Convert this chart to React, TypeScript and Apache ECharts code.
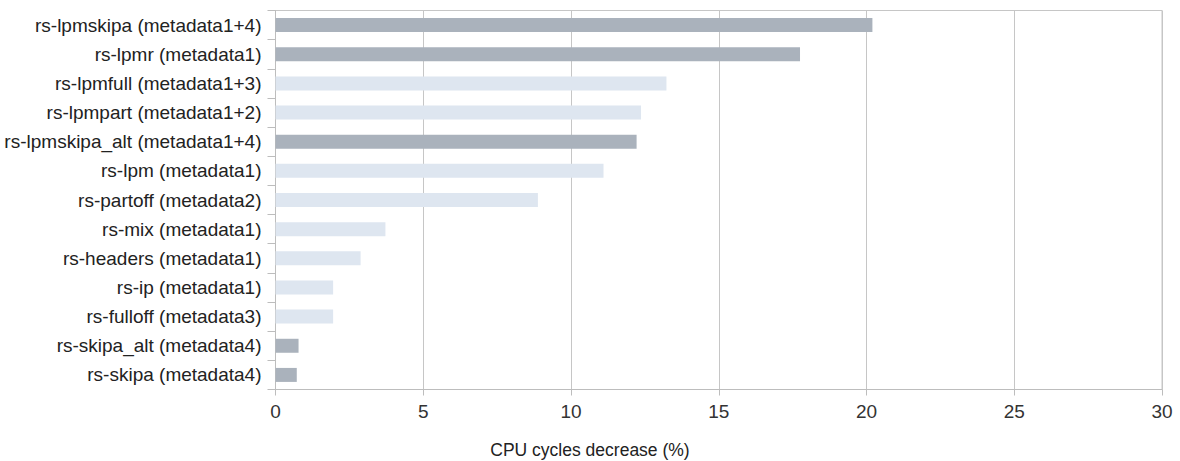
import React, { useEffect, useRef } from "react";
import * as echarts from "echarts";

const categories = [
  "rs-lpmskipa (metadata1+4)",
  "rs-lpmr (metadata1)",
  "rs-lpmfull (metadata1+3)",
  "rs-lpmpart (metadata1+2)",
  "rs-lpmskipa_alt (metadata1+4)",
  "rs-lpm (metadata1)",
  "rs-partoff (metadata2)",
  "rs-mix (metadata1)",
  "rs-headers (metadata1)",
  "rs-ip (metadata1)",
  "rs-fulloff (metadata3)",
  "rs-skipa_alt (metadata4)",
  "rs-skipa (metadata4)",
];
const values = [20.2, 17.75, 13.23, 12.37, 12.22, 11.1, 8.88, 3.72, 2.88, 1.95, 1.95, 0.78, 0.72];
const groups = ["dark", "dark", "light", "light", "dark", "light", "light", "light", "light", "light", "light", "dark", "dark"];
const xTicks = [0, 5, 10, 15, 20, 25, 30];
const axisTitle = "CPU cycles decrease (%)";

const COLORS: Record<string, string> = { dark: "#aab2bc", light: "#dee6f0" };

export default function App() {
  const ref = useRef<HTMLDivElement>(null);
  useEffect(() => {
    document.body.style.margin = "0";
    const chart = echarts.init(ref.current!, null, { renderer: "svg" });
    const font = "'Liberation Sans', Arial, sans-serif";
    chart.setOption({
      animation: false,
      textStyle: { fontFamily: font },
      grid: {
        left: 275.5,
        right: 18,
        top: 10.5,
        bottom: 71.5,
        show: true,
        borderColor: "#c6c6c6",
        borderWidth: 1,
      },
      graphic: [
        {
          type: "text",
          x: 590,
          y: 450,
          style: {
            text: axisTitle,
            fontSize: 17.5,
            fontFamily: font,
            fill: "#222",
            textAlign: "center",
            textVerticalAlign: "middle",
          },
        },
      ],
      xAxis: {
        type: "value",
        min: xTicks[0],
        max: xTicks[xTicks.length - 1],
        interval: 5,
        axisLine: { show: true, lineStyle: { color: "#bdbdbd" } },
        axisTick: { show: true, length: 6, lineStyle: { color: "#bdbdbd" } },
        axisLabel: { fontSize: 19, color: "#333", margin: 12, fontFamily: font },
        splitLine: { show: true, lineStyle: { color: "#c6c6c6", width: 1 } },
      },
      yAxis: {
        type: "category",
        data: categories,
        inverse: true,
        axisLine: { show: true, lineStyle: { color: "#bdbdbd" } },
        axisTick: { show: true, length: 8, lineStyle: { color: "#bdbdbd" } },
        axisLabel: { fontSize: 19, color: "#222", margin: 14, fontFamily: font },
        splitLine: { show: false },
      },
      series: [
        {
          type: "bar",
          barWidth: "48%",
          data: values.map((v, i) => ({ value: v, itemStyle: { color: COLORS[groups[i]] } })),
        },
      ],
    });
    return () => chart.dispose();
  }, []);
  return <div ref={ref} style={{ width: 1180, height: 461 }} />;
}
